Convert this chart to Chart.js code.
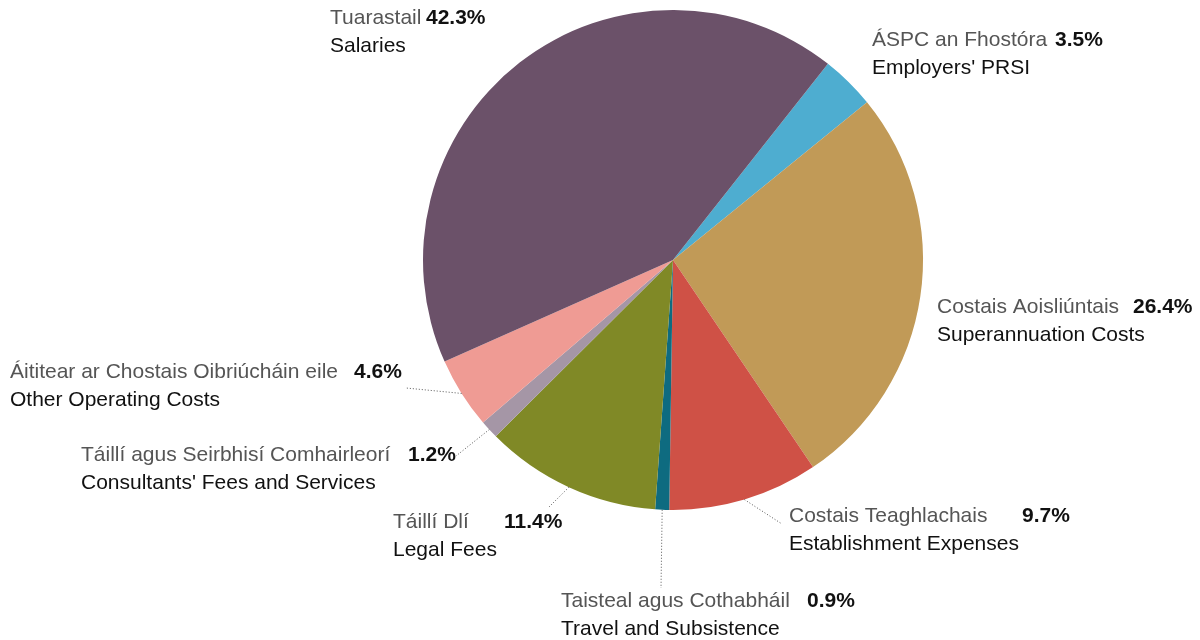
<!DOCTYPE html>
<html>
<head>
<meta charset="utf-8">
<script src="https://cdn.jsdelivr.net/npm/chart.js@4.4.1/dist/chart.umd.min.js"></script>
<style>
  html, body { margin: 0; padding: 0; background: #fff; }
  canvas { display: block; }
</style>
</head>
<body>
<canvas id="pie" width="1200" height="640"></canvas>
<script>
// slices go clockwise, starting with Employers' PRSI
const namesGa = [
  "ÁSPC an Fhostóra",
  "Costais Aoisliúntais",
  "Costais Teaghlachais",
  "Taisteal agus Cothabháil",
  "Táillí Dlí",
  "Táillí agus Seirbhisí Comhairleorí",
  "Áititear ar Chostais Oibriúcháin eile",
  "Tuarastail",
];
const namesEn = [
  "Employers' PRSI",
  "Superannuation Costs",
  "Establishment Expenses",
  "Travel and Subsistence",
  "Legal Fees",
  "Consultants' Fees and Services",
  "Other Operating Costs",
  "Salaries",
];
const shares = [3.5, 26.4, 9.7, 0.9, 11.4, 1.2, 4.6, 42.3];
const colours = [
  "#4eadd0", "#c19a57", "#cf5146", "#0e6b80",
  "#808926", "#a596a6", "#ef9b94", "#6b5169",
];

// where each caption sits; lead = end of the dotted leader (null = none)
const captionPos = [
  { x: 872, y: 40,  pctX: 1055, lead: null },
  { x: 937, y: 307, pctX: 1133, lead: null },
  { x: 789, y: 516, pctX: 1022, lead: [782, 524] },
  { x: 561, y: 601, pctX: 807,  lead: [661, 588] },
  { x: 393, y: 522, pctX: 504,  lead: [548, 508] },
  { x: 81,  y: 455, pctX: 408,  lead: [456, 456] },
  { x: 10,  y: 372, pctX: 354,  lead: [406, 388] },
  { x: 330, y: 18,  pctX: 426,  lead: null },
];

const FONT = "'Liberation Sans', Arial, sans-serif";

const captions = {
  id: "captions",
  afterDraw(chart) {
    const ctx = chart.ctx;
    const arcs = chart.getDatasetMeta(0).data;
    ctx.save();
    ctx.textBaseline = "middle";
    ctx.textAlign = "left";
    arcs.forEach((arc, i) => {
      const pos = captionPos[i];
      if (pos.lead) {
        const mid = (arc.startAngle + arc.endAngle) / 2;
        const sx = arc.x + Math.cos(mid) * arc.outerRadius;
        const sy = arc.y + Math.sin(mid) * arc.outerRadius;
        ctx.beginPath();
        ctx.setLineDash([1, 2]);
        ctx.strokeStyle = "#555";
        ctx.lineWidth = 1;
        ctx.moveTo(sx, sy);
        ctx.lineTo(pos.lead[0], pos.lead[1]);
        ctx.stroke();
        ctx.setLineDash([]);
      }
      ctx.font = "21px " + FONT;
      ctx.fillStyle = "#555";
      ctx.fillText(namesGa[i], pos.x, pos.y);
      ctx.fillStyle = "#111";
      ctx.fillText(namesEn[i], pos.x, pos.y + 28);
      ctx.font = "bold 21px " + FONT;
      ctx.fillText(shares[i].toFixed(1) + "%", pos.pctX, pos.y);
    });
    ctx.restore();
  },
};

new Chart(document.getElementById("pie"), {
  type: "pie",
  data: {
    labels: namesEn,
    datasets: [{
      data: shares,
      backgroundColor: colours,
      borderWidth: 0,
    }],
  },
  options: {
    responsive: false,
    animation: false,
    rotation: 38.3,
    layout: { padding: { left: 423, right: 277, top: 10, bottom: 130 } },
    plugins: {
      legend: { display: false },
      tooltip: { enabled: false },
    },
  },
  plugins: [captions],
});
</script>
</body>
</html>
